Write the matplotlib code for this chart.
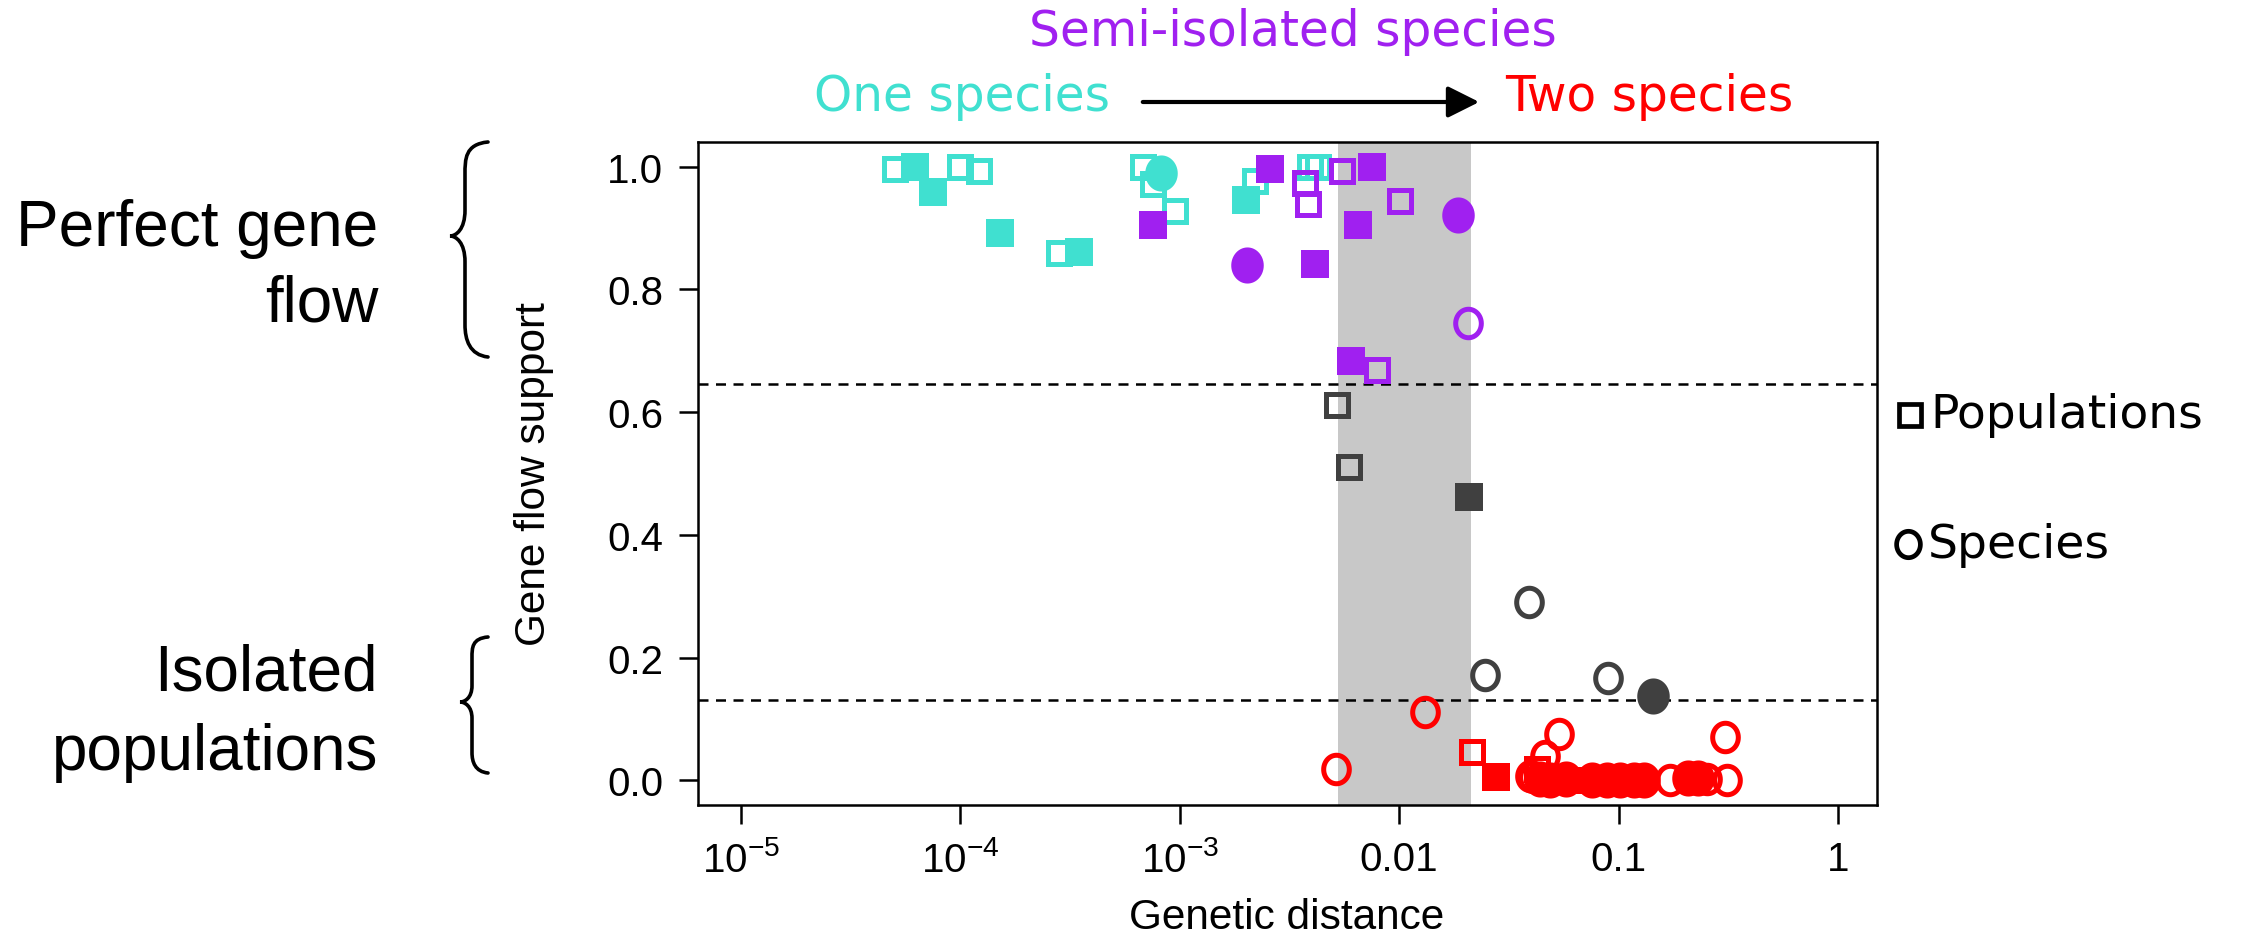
import numpy as np
import matplotlib
matplotlib.use('Agg')
import matplotlib.pyplot as plt
from matplotlib.path import Path
from matplotlib.patches import PathPatch, FancyArrowPatch
from matplotlib.lines import Line2D

plt.rcParams['mathtext.fontset'] = 'custom'
plt.rcParams['mathtext.rm'] = 'Liberation Sans'
plt.rcParams['mathtext.it'] = 'Liberation Sans:italic'

# ---------------- datos ----------------
# tipo: 'os' cuadrado abierto, 'fs' cuadrado lleno, 'oc' circulo abierto, 'fc' circulo lleno
teal_x = [5.04e-5, 6.21e-5, 7.53e-5, 9.95e-5, 1.22e-4, 1.51e-4, 2.82e-4, 3.47e-4,
          6.82e-4, 8.24e-4, 7.55e-4, 9.51e-4, 2.0e-3, 2.20e-3, 3.92e-3, 4.27e-3]
teal_y = [0.996, 1.0, 0.958, 0.999, 0.992, 0.891, 0.860, 0.861,
          0.999, 0.990, 0.971, 0.928, 0.946, 0.977, 1.0, 0.999]
teal_k = ['os', 'fs', 'fs', 'os', 'os', 'fs', 'os', 'fs',
          'os', 'fc', 'os', 'os', 'fs', 'os', 'os', 'os']

purple_x = [7.52e-4, 2.02e-3, 2.59e-3, 3.72e-3, 3.85e-3, 5.47e-3, 4.13e-3,
            7.50e-3, 6.46e-3, 1.01e-2, 1.85e-2, 2.07e-2, 6.03e-3, 7.94e-3]
purple_y = [0.905, 0.840, 0.996, 0.974, 0.939, 0.992, 0.842,
            0.999, 0.905, 0.944, 0.921, 0.745, 0.684, 0.668]
purple_k = ['fs', 'fc', 'fs', 'os', 'os', 'os', 'fs',
            'fs', 'fs', 'os', 'fc', 'oc', 'fs', 'os']

dark_x = [5.22e-3, 5.92e-3, 2.08e-2, 3.89e-2, 2.47e-2, 8.91e-2, 0.144]
dark_y = [0.612, 0.510, 0.462, 0.290, 0.171, 0.167, 0.137]
dark_k = ['os', 'os', 'fs', 'oc', 'oc', 'oc', 'fc']

red_x = [1.31e-2, 5.15e-3, 2.14e-2, 2.75e-2, 5.37e-2, 4.62e-2, 0.305, 0.313,
         4.24e-2, 3.94e-2, 4.39e-2, 4.86e-2, 5.79e-2, 6.67e-2, 7.53e-2, 8.83e-2,
         0.101, 0.117, 0.130, 0.171, 0.208, 0.231, 0.252, 4.07e-2]
red_y = [0.112, 0.018, 0.047, 0.006, 0.075, 0.040, 0.071, 0.001,
         0.018, 0.008, 0.003, 0.000, 0.002, 0.001, 0.000, 0.000,
         0.001, 0.000, 0.001, 0.000, 0.004, 0.004, 0.002, 0.005]
red_k = ['oc', 'oc', 'os', 'fs', 'oc', 'oc', 'oc', 'oc',
         'os', 'oc', 'fc', 'fc', 'fc', 'os', 'fc', 'fc',
         'fc', 'fc', 'fc', 'oc', 'fc', 'fc', 'oc', 'oc']

banda = (5.26e-3, 2.12e-2)
umbrales = [0.645, 0.131]

xticks = [1e-5, 1e-4, 1e-3, 1e-2, 1e-1, 1]
xtick_labels = ['$10^{-5}$', '$10^{-4}$', '$10^{-3}$', '0.01', '0.1', '1']
yticks = [0.0, 0.2, 0.4, 0.6, 0.8, 1.0]

TEAL = '#40E0D0'
PURPLE = '#A020F0'
RED = '#FF0000'
DARK = '#404040'

W, H = 2248, 945

# circulo algo estirado en vertical, como en la figura original
_t = np.linspace(0, 2 * np.pi, 60)
ELIPSE = Path(np.column_stack([0.9 * np.cos(_t), np.sin(_t)]), closed=True)


def fx(px):
    return px / W


def fy(py):
    return 1 - py / H


def dibujar(ax, xs, ys, ks, color):
    estilos = {
        'os': dict(marker='s', ms=16, mfc='none', mec=color, mew=3.6),
        'fs': dict(marker='s', ms=19.5, mfc=color, mec=color, mew=0),
        'oc': dict(marker=ELIPSE, ms=20.5, mfc='none', mec=color, mew=3.6),
        'fc': dict(marker=ELIPSE, ms=26, mfc=color, mec=color, mew=0),
    }
    for x, y, k in zip(xs, ys, ks):
        ax.plot([x], [y], linestyle='none', zorder=3, **estilos[k])


def llave(fig, xl, xm, xr, yt, yb, ytip):
    """Llave '{' en pixeles de la figura."""
    h = yb - yt
    v = [(xr, yt), (xm, yt + 0.01 * h), (xm, yt + 0.08 * h), (xm, yt + 0.15 * h),
         (xm, ytip - 0.12 * h),
         (xm, ytip - 0.03 * h), (xl + 0.4 * (xm - xl), ytip), (xl, ytip),
         (xl + 0.4 * (xm - xl), ytip), (xm, ytip + 0.03 * h), (xm, ytip + 0.12 * h),
         (xm, yb - 0.15 * h),
         (xm, yb - 0.08 * h), (xm + 0.2 * (xr - xm), yb - 0.01 * h), (xr, yb)]
    c = [Path.MOVETO, Path.CURVE4, Path.CURVE4, Path.CURVE4,
         Path.LINETO,
         Path.CURVE4, Path.CURVE4, Path.CURVE4,
         Path.CURVE4, Path.CURVE4, Path.CURVE4,
         Path.LINETO,
         Path.CURVE4, Path.CURVE4, Path.CURVE4]
    verts = [(fx(a), fy(b)) for a, b in v]
    p = PathPatch(Path(verts, c), transform=fig.transFigure, fill=False,
                  lw=2.6, color='black', capstyle='round')
    fig.add_artist(p)


fig = plt.figure(figsize=(W / 100, H / 100), dpi=100)
ax = fig.add_axes([fx(698), fy(806), fx(1877) - fx(698), fy(143) - fy(806)])

ax.axvspan(banda[0], banda[1], color='#C8C8C8', lw=0, zorder=0)
for u in umbrales:
    ax.axhline(u, color='black', lw=1.8, ls=(0, (4, 3)), zorder=1)

dibujar(ax, teal_x, teal_y, teal_k, TEAL)
dibujar(ax, purple_x, purple_y, purple_k, PURPLE)
dibujar(ax, dark_x, dark_y, dark_k, DARK)
dibujar(ax, red_x, red_y, red_k, RED)

ax.set_xscale('log')
ax.set_xlim(10 ** -5.196, 10 ** 0.178)
ax.set_ylim(-0.04, 1.04)
ax.set_xticks(xticks)
ax.set_xticklabels(xtick_labels)
ax.minorticks_off()
ax.set_yticks(yticks)
ax.set_yticklabels([f'{t:.1f}' for t in yticks])
ax.tick_params(direction='out', length=14, width=1.8, labelsize=29, pad=11)
for lab in ax.get_xticklabels() + ax.get_yticklabels():
    lab.set_fontfamily('Liberation Sans')
for s in ax.spines.values():
    s.set_linewidth(1.8)

# etiquetas de ejes
fig.text(fx(534), fy(474), 'Gene flow support', rotation=90, ha='center',
         va='center', fontsize=30.5, family='Liberation Sans')
fig.text(fx(1287), fy(918), 'Genetic distance', ha='center', va='center',
         fontsize=30.5, family='Liberation Sans')

# textos superiores
fig.text(fx(1293), fy(32), 'Semi-isolated species', color=PURPLE, ha='center',
         va='center', fontsize=35, family='DejaVu Sans')
fig.text(fx(962), fy(97), 'One species', color=TEAL, ha='center',
         va='center', fontsize=35, family='DejaVu Sans')
fig.text(fx(1649), fy(97), 'Two species', color=RED, ha='center',
         va='center', fontsize=35, family='DejaVu Sans')
fig.add_artist(FancyArrowPatch((fx(1140), fy(103)), (fx(1482), fy(103)),
                               transform=fig.transFigure, arrowstyle='-|>',
                               mutation_scale=48, lw=3, color='black'))

# textos izquierdos
for txt, y in [('Perfect gene', 229), ('flow', 305),
               ('Isolated', 674), ('populations', 753)]:
    fig.text(fx(378), fy(y), txt, ha='right', va='center', fontsize=46,
             family='Liberation Sans')
llave(fig, 450, 465, 488, 143, 358, 237)
llave(fig, 460, 472, 488, 638, 774, 703)

# leyenda manual
fig.add_artist(Line2D([fx(1910)], [fy(416)], marker='s', ms=16, mfc='none',
                      mec='black', mew=3.4, transform=fig.transFigure))
fig.add_artist(Line2D([fx(1908)], [fy(545)], marker=ELIPSE, ms=19, mfc='none',
                      mec='black', mew=3.4, transform=fig.transFigure))
fig.text(fx(1930), fy(416), 'Populations', ha='left', va='center', fontsize=34,
         family='DejaVu Sans')
fig.text(fx(1928), fy(545), 'Species', ha='left', va='center', fontsize=34,
         family='DejaVu Sans')

fig.savefig('out.png', dpi=100, facecolor='white')
